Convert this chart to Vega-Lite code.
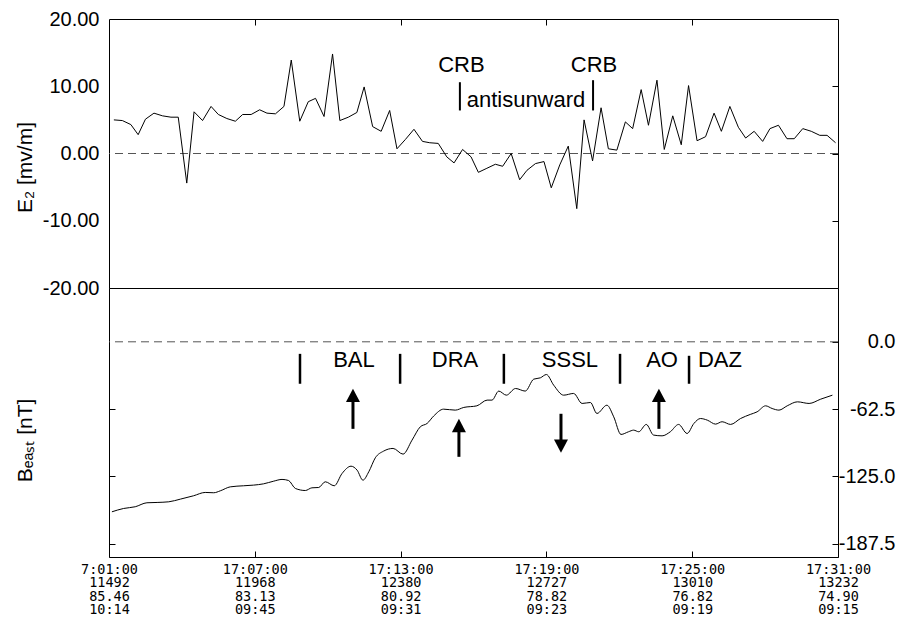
{
  "$schema": "https://vega.github.io/schema/vega-lite/v6.json",
  "background": "white",
  "padding": {"left": 13, "top": 8, "right": 0, "bottom": 5},
  "spacing": 0,
  "bounds": "flush",
  "datasets": {
    "e2": [
      {"t": 0.2, "e": 5.0}, {"t": 0.55, "e": 4.9}, {"t": 0.9, "e": 4.3}, {"t": 1.2, "e": 2.8},
      {"t": 1.5, "e": 5.1}, {"t": 1.85, "e": 6.0}, {"t": 2.2, "e": 5.6}, {"t": 2.55, "e": 5.4},
      {"t": 2.85, "e": 5.4}, {"t": 3.2, "e": -4.4}, {"t": 3.5, "e": 6.2}, {"t": 3.85, "e": 4.9},
      {"t": 4.2, "e": 7.0}, {"t": 4.5, "e": 5.8}, {"t": 4.85, "e": 5.2}, {"t": 5.2, "e": 4.8},
      {"t": 5.5, "e": 5.8}, {"t": 5.85, "e": 5.8}, {"t": 6.2, "e": 6.5}, {"t": 6.5, "e": 6.0},
      {"t": 6.85, "e": 5.9}, {"t": 7.2, "e": 7.0}, {"t": 7.5, "e": 13.9}, {"t": 7.85, "e": 4.8},
      {"t": 8.2, "e": 7.7}, {"t": 8.5, "e": 8.2}, {"t": 8.85, "e": 5.5}, {"t": 9.2, "e": 14.8},
      {"t": 9.5, "e": 4.9}, {"t": 9.85, "e": 5.4}, {"t": 10.2, "e": 6.1}, {"t": 10.5, "e": 9.9},
      {"t": 10.85, "e": 4.0}, {"t": 11.2, "e": 3.3}, {"t": 11.55, "e": 6.4}, {"t": 11.85, "e": 0.7},
      {"t": 12.2, "e": 2.1}, {"t": 12.55, "e": 3.6}, {"t": 12.9, "e": 1.8}, {"t": 13.2, "e": 1.6},
      {"t": 13.55, "e": 1.5}, {"t": 13.9, "e": -0.5}, {"t": 14.2, "e": -1.4}, {"t": 14.55, "e": 0.6},
      {"t": 14.9, "e": -0.5}, {"t": 15.2, "e": -2.8}, {"t": 15.55, "e": -2.2}, {"t": 15.9, "e": -1.6},
      {"t": 16.2, "e": -1.9}, {"t": 16.55, "e": 0.0}, {"t": 16.9, "e": -3.9}, {"t": 17.2, "e": -2.5},
      {"t": 17.55, "e": -1.5}, {"t": 17.9, "e": -1.2}, {"t": 18.2, "e": -5.1}, {"t": 18.55, "e": -1.7},
      {"t": 18.9, "e": 1.1}, {"t": 19.25, "e": -8.2}, {"t": 19.55, "e": 5.0}, {"t": 19.9, "e": -1.1},
      {"t": 20.25, "e": 6.8}, {"t": 20.55, "e": 0.7}, {"t": 20.9, "e": 0.5}, {"t": 21.25, "e": 4.7},
      {"t": 21.55, "e": 3.7}, {"t": 21.9, "e": 9.5}, {"t": 22.2, "e": 4.2}, {"t": 22.55, "e": 10.9},
      {"t": 22.85, "e": 0.6}, {"t": 23.2, "e": 5.6}, {"t": 23.55, "e": 1.3}, {"t": 23.85, "e": 10.1},
      {"t": 24.2, "e": 1.9}, {"t": 24.55, "e": 2.5}, {"t": 24.9, "e": 6.0}, {"t": 25.2, "e": 3.3},
      {"t": 25.55, "e": 7.0}, {"t": 25.9, "e": 3.9}, {"t": 26.2, "e": 2.3}, {"t": 26.55, "e": 3.3},
      {"t": 26.9, "e": 1.8}, {"t": 27.2, "e": 3.7}, {"t": 27.55, "e": 4.2}, {"t": 27.9, "e": 2.2},
      {"t": 28.2, "e": 2.2}, {"t": 28.55, "e": 3.7}, {"t": 28.9, "e": 3.3}, {"t": 29.25, "e": 2.7},
      {"t": 29.55, "e": 2.7}, {"t": 29.9, "e": 1.6}
    ],
    "beast": [
      {"t": 0.12, "b": -158.0}, {"t": 0.6, "b": -154.9}, {"t": 1.08, "b": -153.3}, {"t": 1.56, "b": -149.6},
      {"t": 1.98, "b": -149.3}, {"t": 2.46, "b": -148.7}, {"t": 2.94, "b": -146.2}, {"t": 3.48, "b": -143.1},
      {"t": 3.96, "b": -140.0}, {"t": 4.31, "b": -140.3}, {"t": 4.58, "b": -138.5}, {"t": 4.99, "b": -134.8},
      {"t": 5.54, "b": -133.8}, {"t": 5.95, "b": -133.2}, {"t": 6.36, "b": -132.0}, {"t": 6.78, "b": -129.5},
      {"t": 7.12, "b": -127.9}, {"t": 7.39, "b": -128.9}, {"t": 7.67, "b": -136.3}, {"t": 8.08, "b": -138.2},
      {"t": 8.35, "b": -135.7}, {"t": 8.63, "b": -135.4}, {"t": 8.9, "b": -130.1}, {"t": 9.27, "b": -133.8},
      {"t": 9.59, "b": -122.4}, {"t": 9.96, "b": -115.6}, {"t": 10.21, "b": -119.3}, {"t": 10.45, "b": -128.6},
      {"t": 10.69, "b": -120.8}, {"t": 10.96, "b": -107.8}, {"t": 11.3, "b": -101.6}, {"t": 11.69, "b": -99.1},
      {"t": 12.1, "b": -104.4}, {"t": 12.47, "b": -91.4}, {"t": 12.81, "b": -79.0}, {"t": 13.09, "b": -75.9},
      {"t": 13.36, "b": -69.0}, {"t": 13.77, "b": -62.6}, {"t": 14.25, "b": -63.5}, {"t": 14.6, "b": -61.0},
      {"t": 15.14, "b": -59.5}, {"t": 15.56, "b": -54.2}, {"t": 15.76, "b": -54.2}, {"t": 16.04, "b": -45.8},
      {"t": 16.35, "b": -49.6}, {"t": 16.73, "b": -43.4}, {"t": 17.13, "b": -45.8}, {"t": 17.48, "b": -34.7},
      {"t": 17.75, "b": -33.5}, {"t": 18.0, "b": -30.4}, {"t": 18.3, "b": -40.3}, {"t": 18.71, "b": -49.6},
      {"t": 19.12, "b": -48.0}, {"t": 19.47, "b": -57.3}, {"t": 19.81, "b": -56.4}, {"t": 20.08, "b": -66.6},
      {"t": 20.49, "b": -58.9}, {"t": 20.77, "b": -69.7}, {"t": 21.07, "b": -86.1}, {"t": 21.38, "b": -83.6},
      {"t": 21.59, "b": -82.1}, {"t": 21.8, "b": -83.6}, {"t": 22.11, "b": -76.8}, {"t": 22.41, "b": -86.7},
      {"t": 22.76, "b": -87.4}, {"t": 23.1, "b": -83.6}, {"t": 23.44, "b": -76.8}, {"t": 23.79, "b": -85.2},
      {"t": 24.07, "b": -75.9}, {"t": 24.34, "b": -71.3}, {"t": 24.62, "b": -72.8}, {"t": 24.96, "b": -76.5},
      {"t": 25.23, "b": -74.3}, {"t": 25.58, "b": -76.8}, {"t": 25.99, "b": -71.3}, {"t": 26.39, "b": -67.5},
      {"t": 26.67, "b": -65.1}, {"t": 27.02, "b": -59.5}, {"t": 27.29, "b": -62.0}, {"t": 27.57, "b": -63.5},
      {"t": 27.91, "b": -59.5}, {"t": 28.33, "b": -55.8}, {"t": 28.81, "b": -57.3}, {"t": 29.29, "b": -53.3},
      {"t": 29.77, "b": -49.6}
    ],
    "topNotes": [
      {"t": 14.5, "y": 13.2, "label": "CRB"},
      {"t": 19.96, "y": 13.2, "label": "CRB"},
      {"t": 17.16, "y": 8.0, "label": "antisunward"}
    ],
    "topBars": [
      {"t": 14.44, "y": 6.4, "y2": 10.6},
      {"t": 19.92, "y": 6.4, "y2": 10.9}
    ],
    "botNotes": [
      {"t": 10.08, "y": -16.7, "label": "BAL"},
      {"t": 14.24, "y": -16.7, "label": "DRA"},
      {"t": 18.97, "y": -16.7, "label": "SSSL"},
      {"t": 22.76, "y": -16.7, "label": "AO"},
      {"t": 25.14, "y": -16.7, "label": "DAZ"}
    ],
    "botBars": [
      {"t": 7.86, "y": -11.2, "y2": -39.0},
      {"t": 11.98, "y": -11.2, "y2": -39.0},
      {"t": 16.25, "y": -11.2, "y2": -39.0},
      {"t": 21.03, "y": -11.2, "y2": -39.0},
      {"t": 23.87, "y": -13.0, "y2": -39.0}
    ],
    "arrows": [
      {"t": 10.04, "tail": -80.9, "base": -54.8, "head": -50.2, "dir": "up"},
      {"t": 14.4, "tail": -106.9, "base": -82.7, "head": -78.1, "dir": "up"},
      {"t": 18.6, "tail": -66.9, "base": -92.0, "head": -96.7, "dir": "down"},
      {"t": 22.63, "tail": -80.9, "base": -54.8, "head": -50.2, "dir": "up"}
    ]
  },
  "vconcat": [
    {
      "width": 729,
      "height": 269,
      "resolve": {"axis": {"x": "independent", "y": "independent"}},
      "layer": [
        {
          "data": {"values": [{"v": 0}]},
          "mark": {"type": "rule", "color": "#555", "strokeWidth": 1, "strokeDash": [8, 5]},
          "encoding": {
            "y": {"field": "v", "type": "quantitative", "scale": {"domain": [-20, 20], "nice": false},
              "axis": {"orient": "right", "values": [-10, 0, 10], "labels": false, "tickSize": -6, "title": null}}
          }
        },
        {
          "data": {"name": "e2"},
          "mark": {"type": "line", "color": "black", "strokeWidth": 1},
          "encoding": {
            "x": {"field": "t", "type": "quantitative", "scale": {"domain": [0, 30], "nice": false, "zero": false},
              "axis": {"orient": "top", "values": [6, 12, 18, 24], "labels": false, "tickSize": -6, "title": null}},
            "y": {"field": "e", "type": "quantitative",
              "axis": {"orient": "left", "values": [-20, -10, 0, 10, 20], "format": ".2f", "ticks": false,
                "labelExpr": "replace(datum.label, '−', '-')",
                "labelPadding": 10, "labelFontSize": 20, "title": "E₂ [mv/m]", "titleFontSize": 21,
                "titlePadding": 7, "titleY": 148}}
          }
        },
        {
          "data": {"name": "topBars"},
          "mark": {"type": "rule", "color": "black", "strokeWidth": 2},
          "encoding": {
            "x": {"field": "t", "type": "quantitative", "axis": null},
            "y": {"field": "y", "type": "quantitative", "axis": null},
            "y2": {"field": "y2"}
          }
        },
        {
          "data": {"name": "topNotes"},
          "mark": {"type": "text", "color": "black", "fontSize": 22, "font": "Liberation Sans"},
          "encoding": {
            "x": {"field": "t", "type": "quantitative", "axis": null},
            "y": {"field": "y", "type": "quantitative", "axis": null},
            "text": {"field": "label"}
          }
        }
      ]
    },
    {
      "width": 729,
      "height": 269,
      "resolve": {"axis": {"x": "independent", "y": "independent"}},
      "layer": [
        {
          "data": {"values": [{"v": 0}]},
          "mark": {"type": "rule", "color": "#555", "strokeWidth": 1, "strokeDash": [8, 5]},
          "encoding": {
            "y": {"field": "v", "type": "quantitative", "scale": {"domain": [-200, 50], "nice": false},
              "axis": {"orient": "left", "values": [-62.5, -125, -187.5], "labels": false, "tickSize": -6,
                "title": "Bₑₐₛₜ [nT]", "titleFontSize": 21, "titlePadding": 73, "titleY": 152}}
          }
        },
        {
          "data": {"name": "beast"},
          "mark": {"type": "line", "color": "black", "strokeWidth": 1, "interpolate": "monotone"},
          "encoding": {
            "x": {"field": "t", "type": "quantitative", "scale": {"domain": [0, 30], "nice": false, "zero": false},
              "axis": {"orient": "bottom", "values": [0, 6, 12, 18, 24, 30], "tickSize": -6, "title": null,
                "labelFlush": false, "labelFont": "DejaVu Sans Mono", "labelFontSize": 13.5, "labelLineHeight": 13.6,
                "labelBaseline": "top", "labelPadding": 11,
                "labelExpr": "datum.value == 0 ? ['7:01:00', '11492', '85.46', '10:14'] : datum.value == 6 ? ['17:07:00', '11968', '83.13', '09:45'] : datum.value == 12 ? ['17:13:00', '12380', '80.92', '09:31'] : datum.value == 18 ? ['17:19:00', '12727', '78.82', '09:23'] : datum.value == 24 ? ['17:25:00', '13010', '76.82', '09:19'] : ['17:31:00', '13232', '74.90', '09:15']"}},
            "y": {"field": "b", "type": "quantitative",
              "axis": {"orient": "right", "values": [0, -62.5, -125, -187.5], "format": ".1f", "tickSize": -6,
                "labelExpr": "replace(datum.label, '−', '-')",
                "labelFontSize": 20, "labelAlign": "right", "labelPadding": 63, "title": null}}
          }
        },
        {
          "data": {"name": "botBars"},
          "mark": {"type": "rule", "color": "black", "strokeWidth": 2.5},
          "encoding": {
            "x": {"field": "t", "type": "quantitative", "axis": null},
            "y": {"field": "y", "type": "quantitative", "axis": null},
            "y2": {"field": "y2"}
          }
        },
        {
          "data": {"name": "botNotes"},
          "mark": {"type": "text", "color": "black", "fontSize": 22, "font": "Liberation Sans"},
          "encoding": {
            "x": {"field": "t", "type": "quantitative", "axis": null},
            "y": {"field": "y", "type": "quantitative", "axis": null},
            "text": {"field": "label"}
          }
        },
        {
          "data": {"name": "arrows"},
          "mark": {"type": "rule", "color": "black", "strokeWidth": 3},
          "encoding": {
            "x": {"field": "t", "type": "quantitative", "axis": null},
            "y": {"field": "tail", "type": "quantitative", "axis": null},
            "y2": {"field": "base"}
          }
        },
        {
          "data": {"name": "arrows"},
          "mark": {"type": "point", "filled": true, "color": "black", "opacity": 1, "size": 196},
          "encoding": {
            "x": {"field": "t", "type": "quantitative", "axis": null},
            "y": {"field": "head", "type": "quantitative", "axis": null},
            "shape": {"field": "dir", "type": "nominal", "legend": null,
              "scale": {"domain": ["up", "down"], "range": ["M0,-1L1,0.9L-1,0.9Z", "M0,1L1,-0.9L-1,-0.9Z"]}}
          }
        }
      ]
    }
  ],
  "config": {
    "view": {"stroke": "black", "strokeWidth": 1},
    "axis": {
      "grid": false,
      "domain": false,
      "labelColor": "black",
      "titleColor": "black",
      "tickColor": "black",
      "tickWidth": 1,
      "labelFont": "Liberation Sans",
      "titleFont": "Liberation Sans",
      "titleFontWeight": "normal"
    }
  }
}
